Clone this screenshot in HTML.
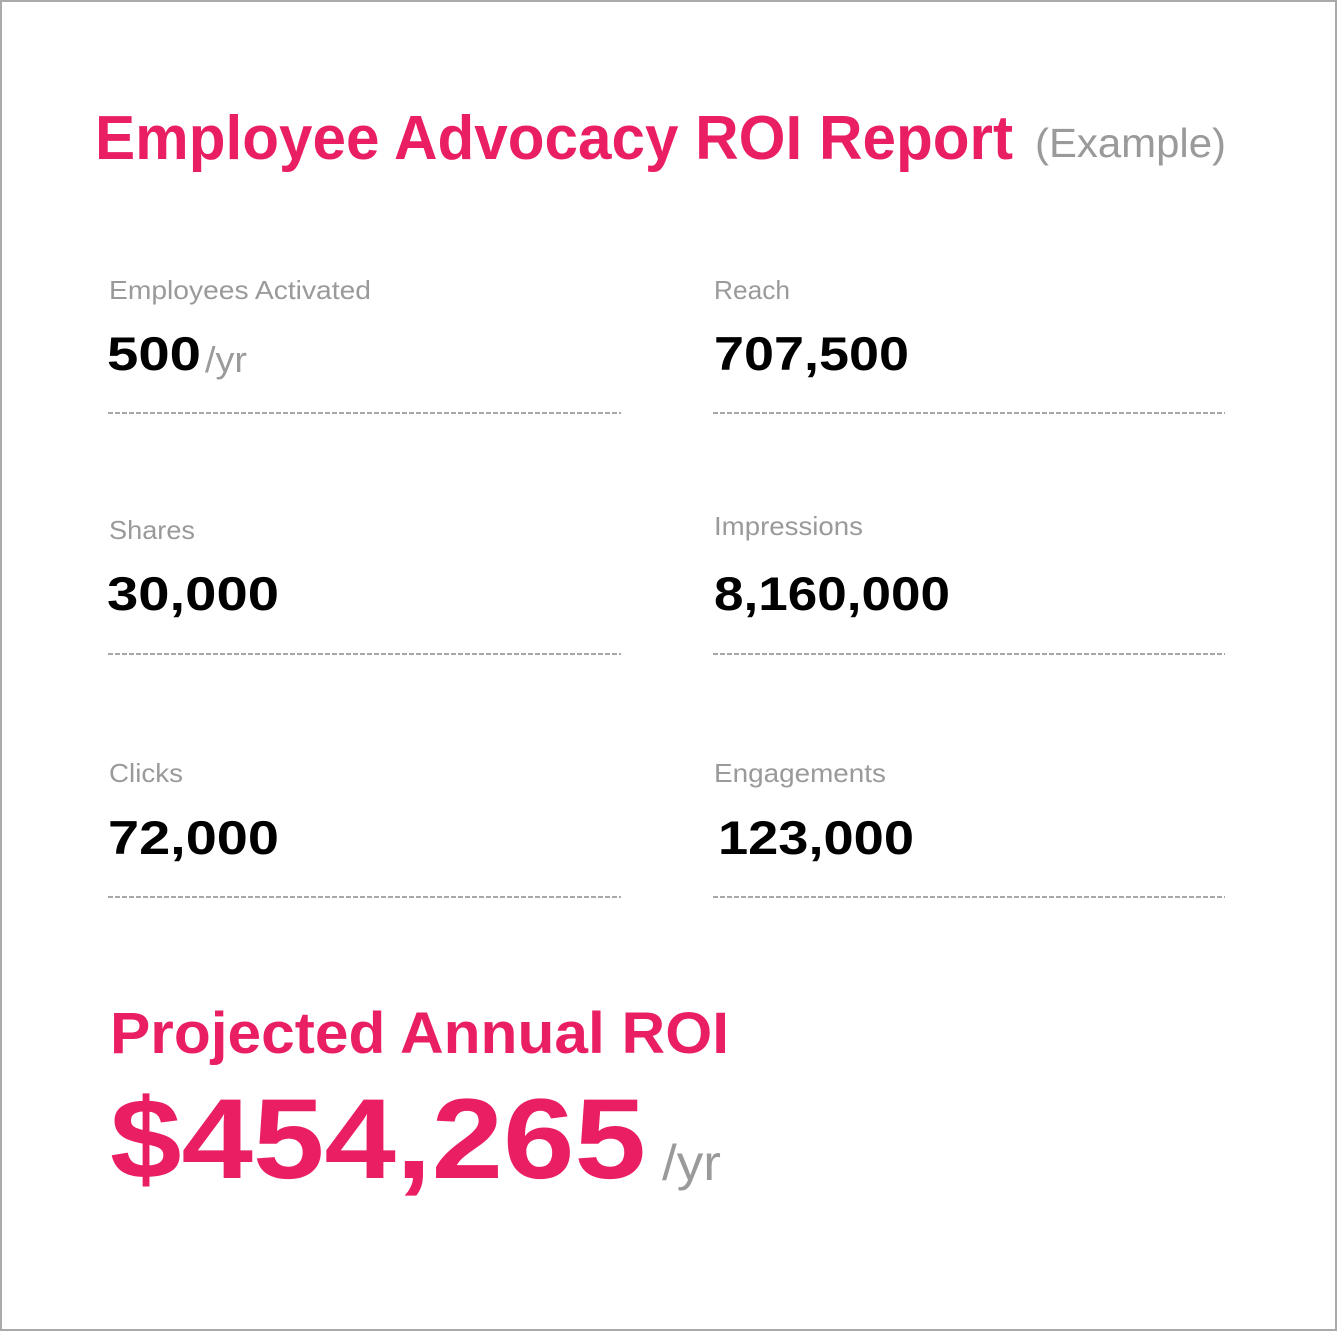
<!DOCTYPE html>
<html><head><meta charset="utf-8">
<style>
html,body{margin:0;padding:0;background:#fff;}
svg{display:block;}
text{font-family:"Liberation Sans",sans-serif;}
.b{font-weight:bold;}
.lab{fill:#9a9a9a;font-size:26px;}
.val{fill:#000;font-size:47px;font-weight:bold;}
.pk{fill:#EA1F63;font-weight:bold;}
.gr{fill:#9a9a9a;}
.d{stroke:#a8a8a8;stroke-width:2;stroke-dasharray:5 2;}
</style></head>
<body>
<svg width="1338" height="1332" viewBox="0 0 1338 1332" xmlns="http://www.w3.org/2000/svg">
<rect x="1" y="1" width="1335" height="1329" fill="#fff" stroke="#aaaaaa" stroke-width="2"/>
<text class="pk" x="95" y="159" font-size="62" textLength="918" lengthAdjust="spacingAndGlyphs">Employee Advocacy ROI Report</text>
<text class="gr" x="1035" y="157" font-size="41" textLength="191" lengthAdjust="spacingAndGlyphs">(Example)</text>

<text class="lab" x="109" y="299" textLength="262" lengthAdjust="spacingAndGlyphs">Employees Activated</text>
<text class="val" x="107" y="370" textLength="94" lengthAdjust="spacingAndGlyphs">500</text>
<text class="gr" x="205" y="372" font-size="36" textLength="42" lengthAdjust="spacingAndGlyphs">/yr</text>
<text class="lab" x="714" y="299" textLength="76" lengthAdjust="spacingAndGlyphs">Reach</text>
<text class="val" x="714" y="370" textLength="195" lengthAdjust="spacingAndGlyphs">707,500</text>
<line class="d" x1="108" y1="413" x2="621" y2="413"/>
<line class="d" x1="713" y1="413" x2="1225" y2="413"/>

<text class="lab" x="109" y="539" textLength="86" lengthAdjust="spacingAndGlyphs">Shares</text>
<text class="val" x="107" y="610" textLength="172" lengthAdjust="spacingAndGlyphs">30,000</text>
<text class="lab" x="714" y="535" textLength="149" lengthAdjust="spacingAndGlyphs">Impressions</text>
<text class="val" x="714" y="610" textLength="236" lengthAdjust="spacingAndGlyphs">8,160,000</text>
<line class="d" x1="108" y1="654" x2="621" y2="654"/>
<line class="d" x1="713" y1="654" x2="1225" y2="654"/>

<text class="lab" x="109" y="782" textLength="74" lengthAdjust="spacingAndGlyphs">Clicks</text>
<text class="val" x="108" y="854" textLength="171" lengthAdjust="spacingAndGlyphs">72,000</text>
<text class="lab" x="714" y="782" textLength="172" lengthAdjust="spacingAndGlyphs">Engagements</text>
<text class="val" x="718" y="854" textLength="196" lengthAdjust="spacingAndGlyphs">123,000</text>
<line class="d" x1="108" y1="897" x2="621" y2="897"/>
<line class="d" x1="713" y1="897" x2="1225" y2="897"/>

<text class="pk" x="110" y="1053" font-size="58" textLength="619" lengthAdjust="spacingAndGlyphs">Projected Annual ROI</text>
<text class="pk" x="110" y="1178" font-size="114" textLength="536" lengthAdjust="spacingAndGlyphs">$454,265</text>
<text class="gr" x="662" y="1180" font-size="50" textLength="59" lengthAdjust="spacingAndGlyphs">/yr</text>
</svg>
</body></html>
